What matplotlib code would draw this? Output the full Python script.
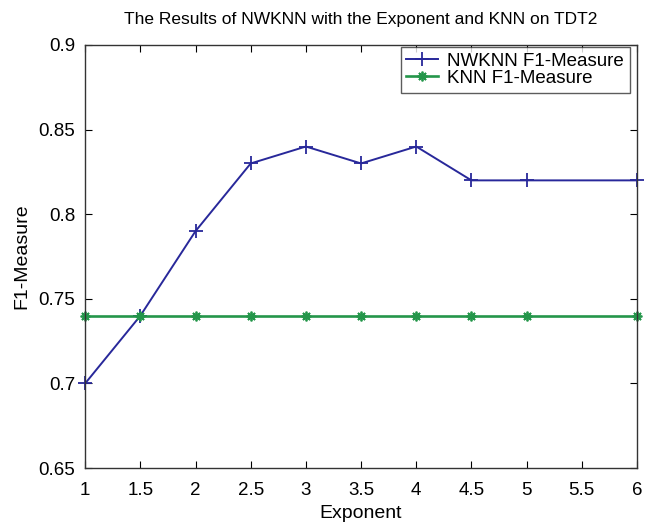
import matplotlib
matplotlib.use('Agg')
import matplotlib.pyplot as plt

plt.rcParams['font.family'] = ['Liberation Sans', 'DejaVu Sans']

exponent = [1, 1.5, 2, 2.5, 3, 3.5, 4, 4.5, 5, 6]
nwknn_f1 = [0.70, 0.74, 0.79, 0.83, 0.84, 0.83, 0.84, 0.82, 0.82, 0.82]
knn_f1 = [0.74, 0.74, 0.74, 0.74, 0.74, 0.74, 0.74, 0.74, 0.74, 0.74]

fig = plt.figure(figsize=(6.5, 5.23), dpi=100)
ax = fig.add_axes([0.131, 0.105, 0.849, 0.809])

ax.plot(exponent, nwknn_f1, marker='+', markersize=10, markeredgewidth=1.3,
        color='#28289a', linewidth=1.4, label='NWKNN F1-Measure', clip_on=False)
ax.plot(exponent, knn_f1, marker=(8, 2, 0), markersize=7, markeredgewidth=1.3,
        color='#24964a', linewidth=1.9, label='KNN F1-Measure', clip_on=False)

ax.set_xlim(1, 6)
ax.set_ylim(0.65, 0.9)
ax.set_xticks([1, 1.5, 2, 2.5, 3, 3.5, 4, 4.5, 5, 5.5, 6])
ax.set_xticklabels(['1', '1.5', '2', '2.5', '3', '3.5', '4', '4.5', '5', '5.5', '6'])
ax.set_yticks([0.65, 0.7, 0.75, 0.8, 0.85, 0.9])
ax.set_yticklabels(['0.65', '0.7', '0.75', '0.8', '0.85', '0.9'])
ax.tick_params(direction='in', top=True, right=True, length=5, labelsize=13.5)
ax.tick_params(axis='x', pad=10)
ax.tick_params(axis='y', pad=7)
for s in ax.spines.values():
    s.set_linewidth(1.0)
    s.set_color('#333333')

ax.set_xlabel('Exponent', fontsize=14, labelpad=4)
ax.set_ylabel('F1-Measure', fontsize=14, labelpad=6)
ax.set_title('The Results of NWKNN with the Exponent and KNN on TDT2', fontsize=12.5, pad=15)

leg = ax.legend(loc='upper right', bbox_to_anchor=(0.987, 0.995), fontsize=13.5,
                fancybox=False, edgecolor='#333333', borderpad=0.3, labelspacing=0.0,
                handlelength=1.7, handletextpad=0.5, borderaxespad=0)
leg.get_frame().set_linewidth(1.0)

fig.savefig('out.png', dpi=100)
